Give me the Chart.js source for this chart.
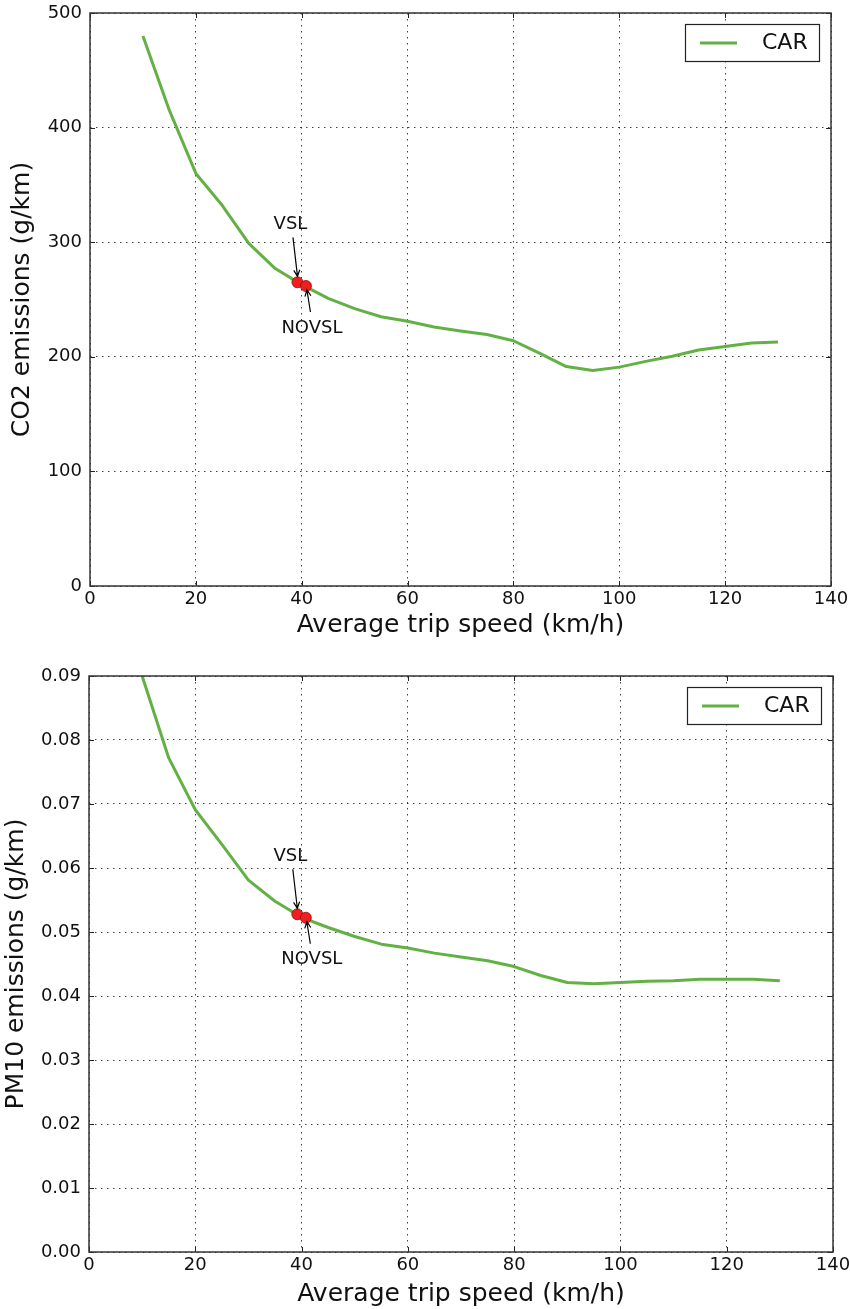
<!DOCTYPE html>
<html>
<head>
<meta charset="utf-8">
<script src="https://cdn.jsdelivr.net/npm/chart.js@4"></script>
<style>
  html, body { margin: 0; padding: 0; background: #fff; }
  #wrap { position: relative; width: 850px; height: 1309px; }
  canvas { position: absolute; left: 0; }
</style>
</head>
<body>
<div id="wrap">
  <canvas id="co2Chart" width="850" height="650" style="top:0"></canvas>
  <canvas id="pmChart" width="850" height="659" style="top:650px"></canvas>
</div>
<script>
// speeds (km/h) shared by both curves
const speeds = [10, 15, 20, 25, 30, 35, 40, 45, 50, 55, 60, 65, 70, 75, 80, 85, 90, 95, 100, 105, 110, 115, 120, 125, 130];

// CO2 emissions of a car (g/km)
const co2Car = [480, 415, 360, 332, 299, 277, 263, 251, 242, 235, 231, 226, 222.5, 219.5, 214, 203, 191.5, 188, 191, 196, 200.5, 206, 209, 212, 213];

// PM10 emissions of a car (g/km)
const pm10Car = [0.090, 0.0772, 0.0691, 0.0637, 0.0581, 0.0548, 0.0523, 0.0507, 0.0493, 0.0481, 0.0475, 0.0467, 0.0461, 0.0455, 0.0446, 0.0432, 0.0421, 0.0419, 0.0421, 0.0423, 0.0424, 0.0426, 0.0426, 0.0426, 0.0424];

// scenario points (speed, value)
const scenarioLabels = ["VSL", "NOVSL"];
const scenarioSpeeds = [39.2, 40.8];
const scenarioCo2 = [265, 261.8];
const scenarioPm10 = [0.05277, 0.05223];

const xTicks = [0, 20, 40, 60, 80, 100, 120, 140];

const GREEN = "#63b144";
const FONT = "'DejaVu Sans', sans-serif";

// frame round the plot area, with inward tick marks on all four sides
const framePlugin = {
  id: "frame",
  afterDatasetsDraw(chart) {
    const { ctx, chartArea: a, scales } = chart;
    ctx.save();
    ctx.strokeStyle = "#222";
    ctx.lineWidth = 1;
    ctx.beginPath();
    scales.x.ticks.forEach((t) => {
      const px = Math.round(scales.x.getPixelForValue(t.value)) + 0.5;
      ctx.moveTo(px, a.bottom); ctx.lineTo(px, a.bottom - 5);
      ctx.moveTo(px, a.top); ctx.lineTo(px, a.top + 5);
    });
    scales.y.ticks.forEach((t) => {
      const py = Math.round(scales.y.getPixelForValue(t.value)) + 0.5;
      ctx.moveTo(a.left, py); ctx.lineTo(a.left + 5, py);
      ctx.moveTo(a.right, py); ctx.lineTo(a.right - 5, py);
    });
    ctx.stroke();
    ctx.lineWidth = 1.5;
    ctx.strokeStyle = "#333";
    ctx.strokeRect(a.left, a.top, a.right - a.left, a.bottom - a.top);
    ctx.restore();
  },
};

// legend box in the upper right corner
const legendPlugin = {
  id: "carLegend",
  afterDraw(chart) {
    const { ctx, chartArea: a } = chart;
    const w = 134, h = 37;
    const x = a.right - 12 - w, y = a.top + 11;
    ctx.save();
    ctx.fillStyle = "#fff";
    ctx.fillRect(x, y, w, h);
    ctx.strokeStyle = "#222";
    ctx.lineWidth = 1.2;
    ctx.strokeRect(x + 0.5, y + 0.5, w, h);
    ctx.strokeStyle = GREEN;
    ctx.lineWidth = 3;
    ctx.beginPath();
    ctx.moveTo(x + 15, y + h / 2 + 0.5);
    ctx.lineTo(x + 52, y + h / 2 + 0.5);
    ctx.stroke();
    ctx.fillStyle = "#111";
    ctx.font = "22px " + FONT;
    ctx.textBaseline = "middle";
    ctx.fillText(chart.data.datasets[0].label, x + 77, y + h / 2 + 1);
    ctx.restore();
  },
};

function arrow(ctx, x1, y1, x2, y2) {
  const ang = Math.atan2(y2 - y1, x2 - x1);
  const hl = 7;
  ctx.beginPath();
  ctx.moveTo(x1, y1);
  ctx.lineTo(x2, y2);
  ctx.moveTo(x2 - hl * Math.cos(ang - 0.45), y2 - hl * Math.sin(ang - 0.45));
  ctx.lineTo(x2, y2);
  ctx.lineTo(x2 - hl * Math.cos(ang + 0.45), y2 - hl * Math.sin(ang + 0.45));
  ctx.stroke();
}

// VSL / NOVSL labels with arrows
const annotatePlugin = {
  id: "annotate",
  afterDatasetsDraw(chart) {
    const { ctx } = chart;
    const pts = chart.getDatasetMeta(1).data;
    ctx.save();
    ctx.strokeStyle = "#000";
    ctx.fillStyle = "#111";
    ctx.lineWidth = 1.2;
    ctx.font = "18px " + FONT;
    ctx.textAlign = "center";
    ctx.textBaseline = "middle";
    const v = pts[0], n = pts[1];
    ctx.fillText(scenarioLabels[0], v.x - 7, v.y - 58);
    arrow(ctx, v.x - 4.5, v.y - 45, v.x, v.y - 6);
    ctx.fillText(scenarioLabels[1], n.x + 6, n.y + 42);
    arrow(ctx, n.x + 4.5, n.y + 26, n.x + 1, n.y + 4);
    ctx.restore();
  },
};

function makeConfig(values, pointValues, opts) {
  return {
    type: "line",
    data: {
      datasets: [
        {
          label: "CAR",
          data: speeds.map((s, i) => ({ x: s, y: values[i] })),
          borderColor: GREEN,
          borderWidth: 3,
          pointRadius: 0,
          tension: 0,
          borderJoinStyle: "round",
          order: 1, // drawn below the red points
        },
        {
          label: "scenarios",
          data: scenarioSpeeds.map((s, i) => ({ x: s, y: pointValues[i] })),
          showLine: false,
          pointRadius: 5.5,
          pointBackgroundColor: "#f01e1e",
          pointBorderColor: "#8a0a0a",
          pointBorderWidth: 0.8,
          order: 0,
        },
      ],
    },
    options: {
      responsive: false,
      animation: false,
      events: [],
      layout: { padding: { left: 0, right: opts.padRight, top: opts.padTop, bottom: 0 } },
      plugins: { legend: { display: false }, tooltip: { enabled: false } },
      scales: {
        x: {
          type: "linear",
          min: 0,
          max: 140,
          afterBuildTicks: (s) => { s.ticks = xTicks.map((v) => ({ value: v })); },
          ticks: { color: "#111", font: { family: FONT, size: 18 }, padding: 3, maxRotation: 0 },
          grid: { color: "rgba(0,0,0,0.75)", lineWidth: 1, drawTicks: false },
          border: { display: false, dash: [1.5, 4.5] },
          title: {
            display: true,
            text: "Average trip speed (km/h)",
            color: "#111",
            font: { family: FONT, size: 25 },
            padding: { top: 0, bottom: opts.xTitlePad },
          },
          afterFit: (s) => {
            s.height = opts.xHeight;
            s.paddingLeft = 0;
            s.paddingRight = 0;
          },
        },
        y: {
          min: 0,
          max: opts.yMax,
          ticks: {
            stepSize: opts.yStep,
            color: "#111",
            font: { family: FONT, size: 18 },
            padding: 8,
            callback: opts.yFormat,
          },
          grid: { color: "rgba(0,0,0,0.75)", lineWidth: 1, drawTicks: false },
          border: { display: false, dash: [1.5, 4.5] },
          title: {
            display: true,
            text: opts.yTitle,
            color: "#111",
            font: { family: FONT, size: 25 },
            padding: { top: opts.yTitlePad, bottom: 0 },
          },
          afterFit: (s) => {
            s.width = opts.yWidth;
            s.paddingTop = 0;
            s.paddingBottom = 0;
          },
        },
      },
    },
    plugins: [framePlugin, annotatePlugin, legendPlugin],
  };
}

new Chart(document.getElementById("co2Chart"), makeConfig(co2Car, scenarioCo2, {
  yMax: 500,
  yStep: 100,
  yFormat: (v) => v.toFixed(0),
  yTitle: "CO2 emissions (g/km)",
  padRight: 19,
  padTop: 13,
  xHeight: 64,
  yWidth: 90,
  xTitlePad: 10,
  yTitlePad: 7,
}));

new Chart(document.getElementById("pmChart"), makeConfig(pm10Car, scenarioPm10, {
  yMax: 0.09,
  yStep: 0.01,
  yFormat: (v) => v.toFixed(2),
  yTitle: "PM10 emissions (g/km)",
  padRight: 17,
  padTop: 26,
  xHeight: 57,
  yWidth: 89,
  xTitlePad: 0,
  yTitlePad: 1,
}));
</script>
</body>
</html>
